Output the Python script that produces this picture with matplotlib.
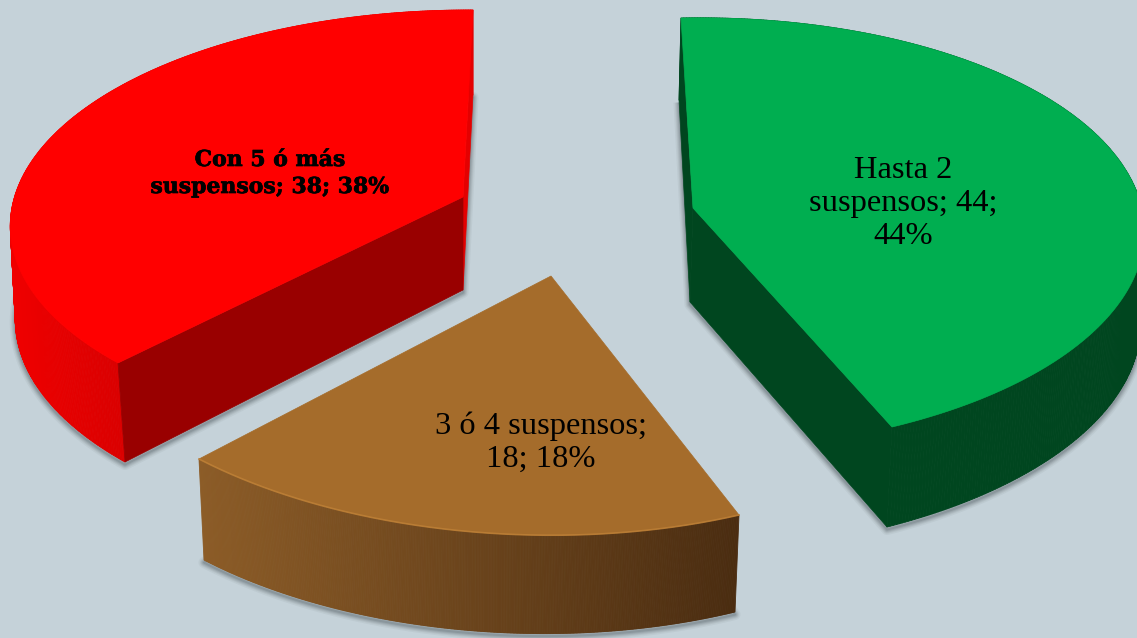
import numpy as np
import matplotlib
matplotlib.use("Agg")
import matplotlib.pyplot as plt
from matplotlib.patches import Polygon
from matplotlib.collections import PolyCollection
from matplotlib.colors import LinearSegmentedColormap
import matplotlib.patheffects as pe

# ---- data ----
categories = ["Hasta 2 suspensos", "3 ó 4 suspensos", "Con 5 ó más suspensos"]
values = [44, 18, 38]
percents = [44, 18, 38]
label_lines = [["Hasta 2", "suspensos; {v};", "{p}%"],
               ["3 ó 4 suspensos;", "{v}; {p}%"],
               ["Con 5 ó más", "suspensos; {v}; {p}%"]]

# ---- styles / placement (pixel space of the drawing) ----
BG = "#C5D2D9"
W, H = 1137, 638
total = sum(values)
geometry = [
    dict(C=(693, 208), E0=(681, 18), E1=(892, 427), persp=(0.12, 0.0),
         d0=(-2, 82), dc=(-3, 94), d1=(-5, 100),
         top="#00AE50", inner="#00461F", sliver="#00461F",
         side=["#00461F", "#00461F"], g=(680, 1137), hl=None),
    dict(C=(551, 276), E0=(739, 515), E1=(199, 459), persp=(-0.06, -0.08),
         d0=(-4, 97), dc=(0, 97), d1=(5, 101),
         top="#A56C2B", inner=None, sliver=None,
         side=["#4A2C10", "#8C5C27"], g=(200, 740), hl="#C08238"),
    dict(C=(463, 197), E0=(473, 10), E1=(118, 363), persp=(0.12, 0.0),
         d0=(0, 85), dc=(0, 93), d1=(7, 99),
         top="#FF0000", inner="#990000", sliver="#E40000",
         side=["#DA0000", "#F00000"], g=(10, 125), hl=None),
]
text_style = [
    dict(x=903, ys=[170, 203, 236], size=23.4, family="Liberation Serif", weight="normal", stroke=0),
    dict(x=541, ys=[426, 459], size=23.4, family="Liberation Serif", weight="normal", stroke=0),
    dict(x=270, ys=[160, 187], size=15.8, family="DejaVu Serif", weight="bold", stroke=0.5),
]

fig = plt.figure(figsize=(W / 100, H / 100), dpi=100, facecolor=BG)
ax = fig.add_axes([0, 0, 1, 1])
ax.set_facecolor(BG)
ax.axis("off")


def arc(g, sweep, n=400):
    """Perspective image of a circular arc of `sweep` degrees, from E0 to E1 about C."""
    C, E0, E1 = (np.array(g[k], float) for k in ("C", "E0", "E1"))
    p, q = g["persp"]
    s = np.radians(sweep)
    th = np.linspace(0, s, n)
    D = 1 + p * np.cos(th) + q * np.sin(th)
    U = (E0 - C) * (1 + p)
    V = ((E1 - C) * (1 + p * np.cos(s) + q * np.sin(s)) - U * np.cos(s)) / np.sin(s)
    pts = C + (np.outer(np.cos(th), U) + np.outer(np.sin(th), V)) / D[:, None]
    return pts, th / s


for value, g in zip(values, geometry):
    sweep = value / total * 360.0
    pts, u = arc(g, sweep)
    d0, d1 = np.array(g["d0"], float), np.array(g["d1"], float)
    dc = np.array(g["dc"], float)
    C = np.array(g["C"], float)
    low = pts + d0[None, :] * (1 - u)[:, None] + d1[None, :] * u[:, None]

    # soft shadow round the lower silhouette
    shadow = np.vstack([low, C + dc]) + np.array([0.0, 2.5])
    for lw, al in zip((8, 6, 4.5, 3, 1.5), (0.06, 0.08, 0.10, 0.13, 0.16)):
        ax.add_patch(Polygon(shadow, closed=True, fill=False, ec="#3F4A50", lw=lw,
                             alpha=al, joinstyle="round", zorder=1))

    # outer rim, as swept strips shaded from left to right
    cm = LinearSegmentedColormap.from_list("rim", [g["side"][1], g["side"][0]])
    quads = np.stack([pts[:-1], pts[1:], low[1:], low[:-1]], axis=1)
    shade = np.clip((quads[:, :, 0].mean(1) - g["g"][0]) / (g["g"][1] - g["g"][0]), 0, 1)
    colors = cm(shade)
    ax.add_collection(PolyCollection(quads, facecolors=colors, edgecolors=colors,
                                     linewidths=0.6, zorder=2))

    # radial faces
    if g["sliver"]:
        ax.add_patch(Polygon([pts[0], C, C + dc, low[0]], closed=True,
                             fc=g["sliver"], ec=g["sliver"], lw=0.5, zorder=3))
    if g["inner"]:
        ax.add_patch(Polygon([C, pts[-1], low[-1], C + dc], closed=True,
                             fc=g["inner"], ec=g["inner"], lw=0.5, zorder=3.1))

    # top face
    ax.add_patch(Polygon(np.vstack([C, pts]), closed=True, fc=g["top"], ec=g["top"],
                         lw=0.5, zorder=4))
    if g["hl"]:
        ax.plot(pts[:, 0], pts[:, 1], color=g["hl"], lw=1.2, alpha=0.8, zorder=4.5)

ax.set_xlim(0, W)
ax.set_ylim(H, 0)

for lines, v, p, st in zip(label_lines, values, percents, text_style):
    for line, y in zip(lines, st["ys"]):
        t = ax.text(st["x"], y, line.format(v=v, p=p), ha="center", va="center",
                    fontsize=st["size"], family=st["family"], fontweight=st["weight"],
                    color="black", zorder=6)
        if st["stroke"]:
            t.set_path_effects([pe.withStroke(linewidth=st["stroke"], foreground="black")])

fig.savefig("out.png", dpi=100, facecolor=BG)
